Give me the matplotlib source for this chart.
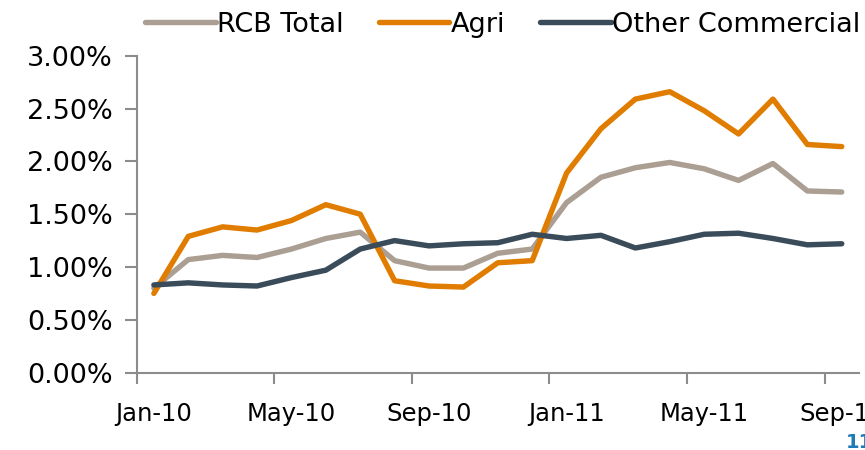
import matplotlib.pyplot as plt
import numpy as np
from matplotlib.ticker import FuncFormatter

# Monthly delinquency ratios, Jan-10 .. Sep-11
months = ['Jan-10', 'Feb-10', 'Mar-10', 'Apr-10', 'May-10', 'Jun-10', 'Jul-10',
          'Aug-10', 'Sep-10', 'Oct-10', 'Nov-10', 'Dec-10', 'Jan-11', 'Feb-11',
          'Mar-11', 'Apr-11', 'May-11', 'Jun-11', 'Jul-11', 'Aug-11', 'Sep-11']
rcb_total = [0.80, 1.07, 1.11, 1.09, 1.17, 1.27, 1.33, 1.06, 0.99, 0.99, 1.13,
             1.17, 1.61, 1.85, 1.94, 1.99, 1.93, 1.82, 1.98, 1.72, 1.71]
agri = [0.75, 1.29, 1.38, 1.35, 1.44, 1.59, 1.50, 0.87, 0.82, 0.81, 1.04,
        1.06, 1.89, 2.31, 2.59, 2.66, 2.48, 2.26, 2.59, 2.16, 2.14]
other_comm = [0.83, 0.85, 0.83, 0.82, 0.90, 0.97, 1.17, 1.25, 1.20, 1.22, 1.23,
              1.31, 1.27, 1.30, 1.18, 1.24, 1.31, 1.32, 1.27, 1.21, 1.22]

grey = '#AB9E93'
orange = '#E07C00'
navy = '#3A4B5A'
axis_col = '#8C8C8C'

fig = plt.figure(figsize=(8.65, 4.5), dpi=100)
ax = fig.add_axes([0.158, 0.172, 0.835, 0.704])

x = np.arange(len(months))
ax.plot(x, rcb_total, color=grey, lw=3.9, label='RCB Total', solid_capstyle='round')
ax.plot(x, agri, color=orange, lw=3.9, label='Agri', solid_capstyle='round')
ax.plot(x, other_comm, color=navy, lw=3.9, label='Other Commercial', solid_capstyle='round')

ax.set_xlim(-0.5, len(months) - 0.5)
ax.set_ylim(0, 3.0)
ax.set_yticks(np.arange(0, 3.01, 0.5))
ax.yaxis.set_major_formatter(FuncFormatter(lambda v, p: '%.2f%%' % v))

# ticks between categories, labels on every fourth month
ax.set_xticks(np.arange(-0.5, len(months), 4))
ax.set_xticklabels([])
ax.set_xticks(x[::4], minor=True)
ax.set_xticklabels([months[i] for i in x[::4]], minor=True)
ax.tick_params(axis='x', which='minor', length=0, pad=21, labelsize=17.5)
ax.tick_params(axis='x', which='major', length=8, width=1.5, color=axis_col)
ax.tick_params(axis='y', length=9, width=1.5, color=axis_col, labelsize=19.5, pad=8)

for s in ['top', 'right']:
    ax.spines[s].set_visible(False)
for s in ['left', 'bottom']:
    ax.spines[s].set_color(axis_col)
    ax.spines[s].set_linewidth(1.5)

ax.legend(loc='lower center', bbox_to_anchor=(0.507, 1.005), ncol=3, frameon=False,
          fontsize=19.5, handlelength=2.6, handletextpad=0.05, columnspacing=1.3,
          borderaxespad=0.2)

fig.text(0.978, 0.005, '11', color='#1F7AB8', fontsize=14, fontweight='bold')

fig.savefig('out.png', dpi=100)
